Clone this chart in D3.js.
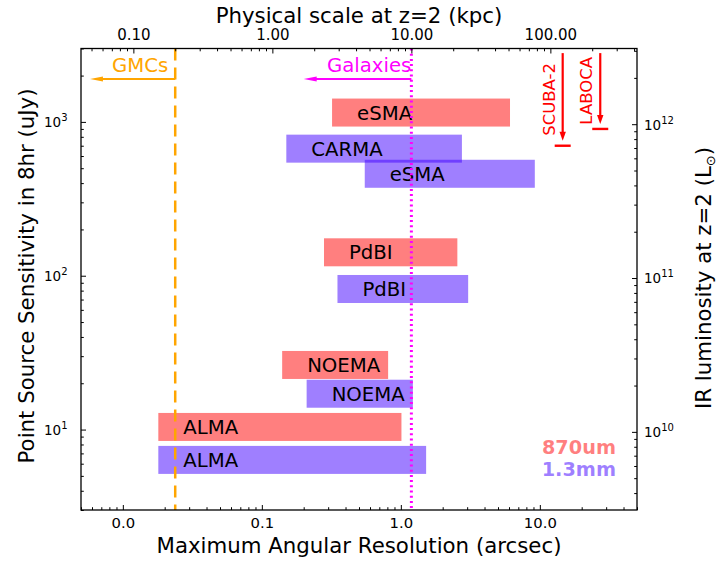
<!DOCTYPE html>
<html>
<head>
<meta charset="utf-8">
<script src="https://cdn.jsdelivr.net/npm/d3@7"></script>
<style>
  html, body { margin: 0; padding: 0; background: #fff; }
  svg { display: block; font-family: "DejaVu Sans", sans-serif; }
</style>
</head>
<body>
<svg id="chart" width="717" height="566"></svg>
<script>
// ---------------- data ----------------
const instruments = ["eSMA", "CARMA", "eSMA", "PdBI", "PdBI", "NOEMA", "NOEMA", "ALMA", "ALMA"];
const bands       = ["870um", "1.3mm", "1.3mm", "870um", "1.3mm", "870um", "1.3mm", "870um", "1.3mm"];
const sensitivity = [1150, 670, 460, 142, 82, 26.3, 17.1, 10.4, 6.35];      // uJy in 8 hr
const resMin      = [0.32, 0.15, 0.55, 0.28, 0.35, 0.14, 0.21, 0.018, 0.018]; // arcsec
const resMax      = [6.1, 2.75, 9.2, 2.55, 3.05, 0.81, 1.22, 1.01, 1.52];     // arcsec

const singleDish      = ["SCUBA-2", "LABOCA"];
const singleDishBeam  = [14.6, 27.2];   // arcsec
const singleDishLimit = [700, 900];     // uJy
const singleDishTop   = 2800;           // uJy (arrow start)

const scaleNames   = ["GMCs", "Galaxies"];
const scaleKpc     = [0.2, 10];         // kpc
const scaleArrowTo = [0.0058, 0.2];     // arcsec
const scaleLabelAt = [0.0212, 1.19];    // arcsec (label right end)
const scaleArrowAt = 1900;              // uJy

const bandNames = ["870um", "1.3mm"];

const xTickValues  = [0.01, 0.1, 1, 10];
const xTickLabels  = ["0.0", "0.1", "1.0", "10.0"];
const topTickValues = [0.1, 1, 10, 100];
const topTickLabels = ["0.10", "1.00", "10.00", "100.00"];
const yTickValues  = [10, 100, 1000];
const yTickExp     = ["1", "2", "3"];
const ryTickValues = [1e10, 1e11, 1e12];
const ryTickExp    = ["10", "11", "12"];

const kpcPerArcsec = 8.4;     // physical scale at z=2
const lumPerUJy    = 1.035e9; // IR luminosity (Lsun) per uJy at z=2

// ---------------- styles ----------------
const bandColor = { "870um": "rgb(255,0,0)", "1.3mm": "rgb(64,0,255)" };
const scaleColor = ["#ffa500", "#ff00ff"];
const L = 81, R = 637, T = 48.5, B = 510;
const titleSize = 21.3;

const svg = d3.select("#chart");
const x = d3.scaleLog().domain([0.005, 50]).range([L, R]);
const xTop = d3.scaleLog().domain([0.005 * kpcPerArcsec, 50 * kpcPerArcsec]).range([L, R]);
const y = d3.scaleLog().domain([3, 3000]).range([B, T]);
const yR = d3.scaleLog().domain([3 * lumPerUJy, 3000 * lumPerUJy]).range([B, T]);

function minors(scale) {
  const [a, b] = scale.domain();
  const out = [];
  for (let e = Math.floor(Math.log10(a)); e <= Math.ceil(Math.log10(b)); e++) {
    for (let k = 2; k <= 9; k++) {
      const v = k * Math.pow(10, e);
      if (v >= a * 0.999 && v <= b * 1.001) out.push(v);
    }
  }
  return out;
}

// ---------------- bars ----------------
const bars = instruments.map((n, i) => ({ n, band: bands[i], s: sensitivity[i], lo: resMin[i], hi: resMax[i] }));
const gBars = svg.append("g");
gBars.selectAll("rect").data(bars).join("rect")
  .attr("x", d => x(d.lo))
  .attr("width", d => x(d.hi) - x(d.lo))
  .attr("y", d => y(d.s) - 14)
  .attr("height", 28)
  .attr("fill", d => bandColor[d.band])
  .attr("fill-opacity", 0.5);
gBars.selectAll("text").data(bars).join("text")
  .attr("x", d => x(d.lo) + 25)
  .attr("y", d => y(d.s) + 7.1)
  .attr("font-size", 19.7)
  .attr("fill", "#000")
  .text(d => d.n);

// ---------------- vertical scale lines & arrows ----------------
scaleNames.forEach((name, i) => {
  const lx = x(scaleKpc[i] / kpcPerArcsec);
  svg.append("line")
    .attr("x1", lx).attr("x2", lx).attr("y1", T).attr("y2", B)
    .attr("stroke", scaleColor[i])
    .attr("stroke-width", i === 0 ? 2.5 : 3)
    .attr("stroke-dasharray", i === 0 ? "12,7" : "2,3.2");
  const ay = y(scaleArrowAt);
  const tip = x(scaleArrowTo[i]);
  svg.append("line")
    .attr("x1", lx).attr("x2", tip + 10).attr("y1", ay).attr("y2", ay)
    .attr("stroke", scaleColor[i]).attr("stroke-width", 2);
  svg.append("path")
    .attr("d", `M${tip},${ay} L${tip + 13},${ay - 2.5} L${tip + 13},${ay + 2.5} Z`)
    .attr("fill", scaleColor[i]);
  svg.append("text")
    .attr("x", x(scaleLabelAt[i]))
    .attr("y", ay - 7.3)
    .attr("text-anchor", "end")
    .attr("font-size", 19.7)
    .attr("fill", scaleColor[i])
    .text(name);
});

// ---------------- single dish limits ----------------
const labelTopOffset = [14.5, 8.5];
singleDish.forEach((name, i) => {
  const sx = x(singleDishBeam[i]);
  const sy = y(singleDishLimit[i]);
  const tipY = sy - 5;
  svg.append("line")
    .attr("x1", sx).attr("x2", sx).attr("y1", y(singleDishTop)).attr("y2", tipY - 7)
    .attr("stroke", "#ff0000").attr("stroke-width", 2.2);
  svg.append("path")
    .attr("d", `M${sx},${tipY} L${sx - 3.2},${tipY - 9} L${sx + 3.2},${tipY - 9} Z`)
    .attr("fill", "#ff0000");
  svg.append("line")
    .attr("x1", sx - 8).attr("x2", sx + 8).attr("y1", sy).attr("y2", sy)
    .attr("stroke", "#ff0000").attr("stroke-width", 2.4);
  svg.append("text")
    .attr("transform", `translate(${sx - 8},${T + labelTopOffset[i]}) rotate(-90)`)
    .attr("text-anchor", "end")
    .attr("font-size", 16.5)
    .attr("fill", "#ff0000")
    .text(name);
});

// ---------------- legend ----------------
bandNames.forEach((b, i) => {
  svg.append("text")
    .attr("x", 616).attr("y", 454 + i * 22)
    .attr("text-anchor", "end")
    .attr("font-size", 19.3).attr("font-weight", "bold")
    .attr("fill", bandColor[b]).attr("fill-opacity", 0.5)
    .text(b);
});

// ---------------- axes ----------------
function styleAxis(g) {
  g.select(".domain").remove();
  g.selectAll(".tick line").attr("stroke", "#000").attr("stroke-width", 1);
}
// bottom
svg.append("g").attr("transform", `translate(0,${B})`)
  .call(d3.axisBottom(x).tickValues(minors(x)).tickSize(-2.8).tickFormat(""))
  .call(styleAxis);
const gxb = svg.append("g").attr("transform", `translate(0,${B})`)
  .call(d3.axisBottom(x).tickValues(xTickValues).tickSize(-5).tickFormat((d, i) => xTickLabels[i]))
  .call(styleAxis);
gxb.selectAll("text").attr("y", 17.7).attr("dy", null).attr("font-size", 14.8).attr("font-family", "DejaVu Sans").attr("fill", "#000");
// top
svg.append("g").attr("transform", `translate(0,${T})`)
  .call(d3.axisTop(xTop).tickValues(minors(xTop)).tickSize(-2.8).tickFormat(""))
  .call(styleAxis);
const gxt = svg.append("g").attr("transform", `translate(0,${T})`)
  .call(d3.axisTop(xTop).tickValues(topTickValues).tickSize(-5).tickFormat((d, i) => topTickLabels[i]))
  .call(styleAxis);
gxt.selectAll("text").attr("y", -8.5).attr("dy", null).attr("font-size", 15).attr("font-family", "DejaVu Sans").attr("fill", "#000");
// left
svg.append("g").attr("transform", `translate(${L},0)`)
  .call(d3.axisLeft(y).tickValues(minors(y)).tickSize(-2.8).tickFormat(""))
  .call(styleAxis);
const gyl = svg.append("g").attr("transform", `translate(${L},0)`)
  .call(d3.axisLeft(y).tickValues(yTickValues).tickSize(-5).tickFormat(""))
  .call(styleAxis);
gyl.selectAll(".tick").each(function (d, i) {
  const t = d3.select(this).select("text")
    .attr("x", -13.5).attr("dy", null).attr("y", 4.9)
    .attr("text-anchor", "end").attr("font-family", "DejaVu Sans").attr("fill", "#000");
  t.append("tspan").attr("font-size", 13.5).text("10");
  t.append("tspan").attr("font-size", 10).attr("dy", -6).text(yTickExp[i]);
});
// right
svg.append("g").attr("transform", `translate(${R},0)`)
  .call(d3.axisRight(yR).tickValues(minors(yR)).tickSize(-2.8).tickFormat(""))
  .call(styleAxis);
const gyr = svg.append("g").attr("transform", `translate(${R},0)`)
  .call(d3.axisRight(yR).tickValues(ryTickValues).tickSize(-5).tickFormat(""))
  .call(styleAxis);
gyr.selectAll(".tick").each(function (d, i) {
  const t = d3.select(this).select("text")
    .attr("x", 7).attr("dy", null).attr("y", 4.9)
    .attr("text-anchor", "start").attr("font-family", "DejaVu Sans").attr("fill", "#000");
  t.append("tspan").attr("font-size", 13.5).text("10");
  t.append("tspan").attr("font-size", 10).attr("dy", -6).text(ryTickExp[i]);
});

// frame
svg.append("rect")
  .attr("x", L).attr("y", T).attr("width", R - L).attr("height", B - T)
  .attr("fill", "none").attr("stroke", "#000").attr("stroke-width", 1.3);

// ---------------- titles ----------------
svg.append("text").attr("x", (L + R) / 2).attr("y", 553).attr("text-anchor", "middle")
  .attr("font-size", titleSize).text("Maximum Angular Resolution (arcsec)");
svg.append("text").attr("x", (L + R) / 2).attr("y", 22.5).attr("text-anchor", "middle")
  .attr("font-size", titleSize).text("Physical scale at z=2 (kpc)");
svg.append("text").attr("transform", `translate(33.5,276) rotate(-90)`).attr("text-anchor", "middle")
  .attr("font-size", titleSize).text("Point Source Sensitivity in 8hr (uJy)");
const rt = svg.append("text").attr("transform", `translate(711,278) rotate(-90)`).attr("text-anchor", "middle")
  .attr("font-size", titleSize);
rt.append("tspan").text("IR luminosity at z=2 (L");
rt.append("tspan").attr("font-size", 13).attr("dy", 4).text("⊙");
rt.append("tspan").attr("dy", -4).text(")");
</script>
</body>
</html>
